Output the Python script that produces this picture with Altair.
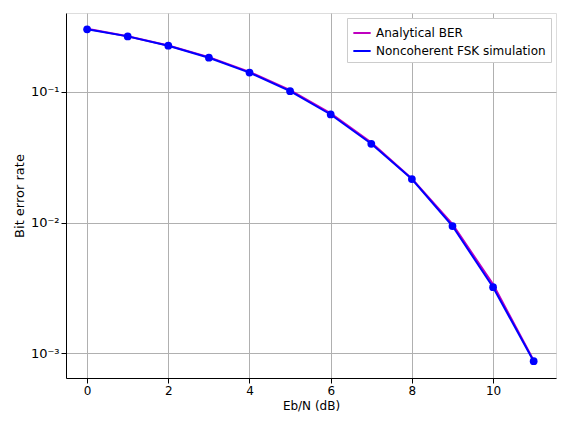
import altair as alt
import pandas as pd

ebn = list(range(12))
analytical = [0.303, 0.266, 0.226, 0.184, 0.142, 0.1029, 0.0683, 0.0408, 0.0216, 0.0097, 0.00337, 0.00088]
simulation = [0.300, 0.265, 0.225, 0.182, 0.140, 0.101, 0.067, 0.040, 0.0215, 0.0094, 0.0032, 0.00087]

df = pd.DataFrame({
    "x": ebn * 2,
    "y": analytical + simulation,
    "s": ["Analytical BER"] * 12 + ["Noncoherent FSK simulation"] * 12,
})

color = alt.Color("s:N", scale=alt.Scale(domain=["Analytical BER", "Noncoherent FSK simulation"],
                                         range=["#bf00bf", "#0000ff"]),
                  legend=alt.Legend(title=None, orient="top-right", labelFontSize=12, labelLimit=0,
                                    offset=5, fillColor="white", strokeColor="#cccccc", padding=5,
                                    symbolType="stroke", symbolStrokeWidth=2, symbolSize=300))

xs = alt.X("x:Q", scale=alt.Scale(domain=[-0.52, 11.55], nice=False, zero=False),
           axis=alt.Axis(values=[0, 2, 4, 6, 8, 10], title="Eb/N (dB)", grid=True,
                         titleFontWeight="normal", titleFontSize=12, labelFontSize=12,
                         gridColor="#b0b0b0", domainColor="black", tickColor="black", labelColor="black"))
ys = alt.Y("y:Q", scale=alt.Scale(type="log", domain=[0.000647, 0.40], nice=False),
           axis=alt.Axis(values=[0.001, 0.01, 0.1], title="Bit error rate",
                         labelExpr="datum.value==0.1?'10⁻¹':datum.value==0.01?'10⁻²':'10⁻³'",
                         titleFontWeight="normal", titleFontSize=13, labelFontSize=13,
                         gridColor="#b0b0b0", domainColor="black", tickColor="black", labelColor="black"))

lines = alt.Chart(df).mark_line(strokeWidth=2).encode(x=xs, y=ys, color=color)
pts = alt.Chart(df[df.s == "Noncoherent FSK simulation"]).mark_point(
    filled=True, size=60, opacity=1, color="#0000ff").encode(x=xs, y=ys)

chart = alt.layer(lines, pts).properties(width=490, height=365).configure_view(
    stroke="black").configure(font="DejaVu Sans")
chart.save("out.html", embed_options={"renderer": "svg", "actions": False})
